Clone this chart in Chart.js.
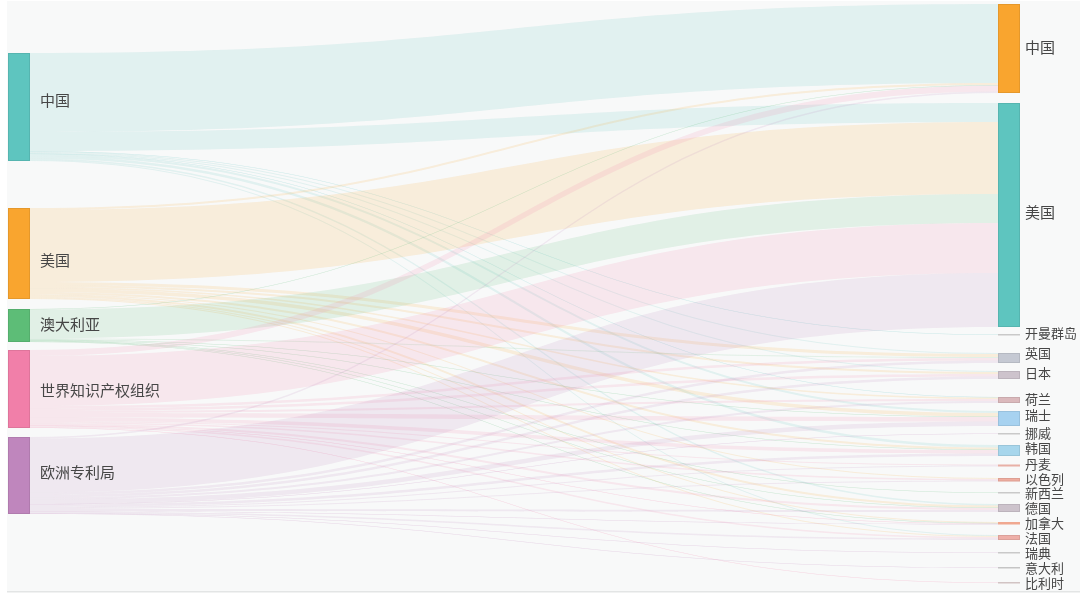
<!DOCTYPE html>
<html>
<head>
<meta charset="utf-8">
<script src="https://cdn.jsdelivr.net/npm/chart.js@4.4.1/dist/chart.umd.min.js"></script>
<style>
  body { margin: 0; background: #fff; }
  #wrap { width: 1080px; height: 597px; }
</style>
</head>
<body>
<div id="wrap"><canvas id="sankeyChart"></canvas></div>
<script>
// Nodes
const sourceNames = ['中国', '美国', '澳大利亚', '世界知识产权组织', '欧洲专利局'];
const targetNames = ['中国', '美国', '开曼群岛', '英国', '日本', '荷兰', '瑞士', '挪威', '韩国',
                     '丹麦', '以色列', '新西兰', '德国', '加拿大', '法国', '瑞典', '意大利', '比利时'];

// Flows from each source, one value per target (same order as targetNames)
const fromChina     = [79, 19, 0.5, 1, 1, 0.5, 2, 0, 2.5, 0, 0, 0, 1.5, 0, 1, 0, 0, 0];
const fromUSA       = [2, 72, 0, 3, 2, 1.5, 3.5, 0, 2, 0, 1, 0, 2, 1, 1, 0, 0, 0];
const fromAustralia = [0.5, 29, 0, 1, 0, 0, 0.5, 0, 0.5, 0, 0, 0.5, 0.5, 0.5, 0, 0, 0, 0];
const fromWIPO      = [6, 50, 0, 2.5, 2.5, 2, 4.5, 0, 3.5, 1, 1.5, 0, 2, 0.5, 1.5, 0, 0, 0.5];
const fromEPO       = [1.5, 54, 0, 2.5, 2.5, 2, 4.5, 0.5, 2.5, 1, 1, 0, 2, 0.5, 1.5, 0.5, 0.5, 0];
const flows = [fromChina, fromUSA, fromAustralia, fromWIPO, fromEPO];

// Layout: empty space before each node, in value units
const sourceGaps = [53, 47, 10, 8, 9];
const targetGaps = [4, 10, 7.5, 18, 8, 18, 8, 7.5, 11, 8.5, 11.5, 11, 11, 10, 10.5, 12.5, 14.5, 14.5];
// small nudges of the labels (px)
const sourceLabelShift = [-7, 7, -1, 1, -3];
const targetLabelShift = [-1, -3, -2, -5, -2, -1, -3, -1, -2, -1, -1, 0, 0, 0, 1, 0, 0, 0];

const sourceColors = ['#5ec5bf', '#f9a52f', '#5dbd77', '#f17fa9', '#bf86bd'];
const targetColors = ['#f9a52f', '#5ec5bf', '#c9c9c9', '#c5c9d3', '#cdc3cc', '#dbb9bc', '#a7d2f0', '#c9c9c9', '#a7d6ec',
                      '#e8b0a6', '#f0ada0', '#c9c9c9', '#cdc3cc', '#f0a890', '#eeafa8', '#c9c9c9', '#c5c5c5', '#d2c4c4'];

const NODE_W = 22;

function rgba(hex, a) {
  const n = parseInt(hex.slice(1), 16);
  return `rgba(${n >> 16}, ${(n >> 8) & 255}, ${n & 255}, ${a})`;
}

function sum(arr) { return arr.reduce((a, b) => a + b, 0); }

function stack(values, gaps) {
  let pos = 0;
  return values.map((v, i) => {
    pos += gaps[i];
    const node = { start: pos, value: v };
    pos += v;
    return node;
  });
}

const sourceNodes = stack(flows.map(sum), sourceGaps);
const targetNodes = stack(targetNames.map((_, t) => sum(flows.map(f => f[t]))), targetGaps);

function fromBefore(s, t) {
  let acc = 0;
  for (let k = 0; k < s; k++) acc += flows[k][t];
  return acc;
}

function bandPath(ctx, x0, x1, s0, s1, t0, t1) {
  const xm = (x0 + x1) / 2;
  ctx.beginPath();
  ctx.moveTo(x0, s0);
  ctx.bezierCurveTo(xm, s0, xm, t0, x1, t0);
  ctx.lineTo(x1, t1);
  ctx.bezierCurveTo(xm, t1, xm, s1, x0, s1);
  ctx.closePath();
}

const sankeyPlugin = {
  id: 'sankey',
  beforeDraw(chart) {
    const { ctx, chartArea, scales: { x, y } } = chart;
    ctx.save();
    ctx.fillStyle = '#fff';
    ctx.fillRect(0, 0, chart.width, chart.height);
    ctx.fillStyle = '#f8f9f9';
    ctx.fillRect(chartArea.left - 1, chartArea.top + 1, chart.width, chartArea.bottom - chartArea.top);
    ctx.fillStyle = '#e3e5e5';
    ctx.fillRect(chartArea.left - 1, chartArea.bottom + 1, chart.width, 1.5);

    const xs = x.getPixelForValue(0) + NODE_W;
    const xt = x.getPixelForValue(1);

    // links: stacked at source in target order, at target in source order
    flows.forEach((row, s) => {
      let so = sourceNodes[s].start;
      row.forEach((v, t) => {
        if (!v) return;
        const to = targetNodes[t].start + fromBefore(s, t);
        bandPath(ctx, xs, xt,
          y.getPixelForValue(so), y.getPixelForValue(so + v),
          y.getPixelForValue(to), y.getPixelForValue(to + v));
        ctx.fillStyle = rgba(sourceColors[s], v < 1 ? 0.3 : 0.15);
        ctx.fill();
        so += v;
      });
    });

    // nodes and labels
    const drawNodes = (nodes, colors, names, shifts, px, labelX, side) => {
      nodes.forEach((n, i) => {
        let top = y.getPixelForValue(n.start);
        let bottom = y.getPixelForValue(n.start + n.value);
        if (bottom - top < 1.5) {
          const mid = (top + bottom) / 2;
          top = mid - 0.75; bottom = mid + 0.75;
        }
        ctx.fillStyle = colors[i];
        ctx.fillRect(px, top, NODE_W, bottom - top);
        if (bottom - top > 3) {
          ctx.strokeStyle = 'rgba(0,0,0,0.08)';
          ctx.lineWidth = 1;
          ctx.strokeRect(px + 0.5, top + 0.5, NODE_W - 1, bottom - top - 1);
        }
        const big = side === 'left' || n.value > 40;
        ctx.font = (big ? 15 : 13) + 'px "Noto Sans CJK SC", sans-serif';
        ctx.fillStyle = '#464646';
        ctx.textAlign = 'left';
        ctx.textBaseline = 'middle';
        ctx.fillText(names[i], labelX, (top + bottom) / 2 + shifts[i]);
      });
    };
    drawNodes(sourceNodes, sourceColors, sourceNames, sourceLabelShift, x.getPixelForValue(0), xs + 10, 'left');
    drawNodes(targetNodes, targetColors, targetNames, targetLabelShift, xt, xt + NODE_W + 5, 'right');
    ctx.restore();
  }
};

const ctx = document.getElementById('sankeyChart').getContext('2d');
const sankeyChart = new Chart(ctx, {
  type: 'scatter',
  data: { datasets: [{ data: [] }] },
  plugins: [sankeyPlugin],
  options: {
    responsive: true,
    maintainAspectRatio: false,
    animation: false,
    layout: { padding: { left: 8, right: 82, top: 0, bottom: 7 } },
    plugins: { legend: { display: false }, tooltip: { enabled: false } },
    scales: {
      x: { type: 'linear', min: 0, max: 1, display: false },
      y: { type: 'linear', min: 0, max: 590, reverse: true, display: false }
    }
  }
});
</script>
</body>
</html>
